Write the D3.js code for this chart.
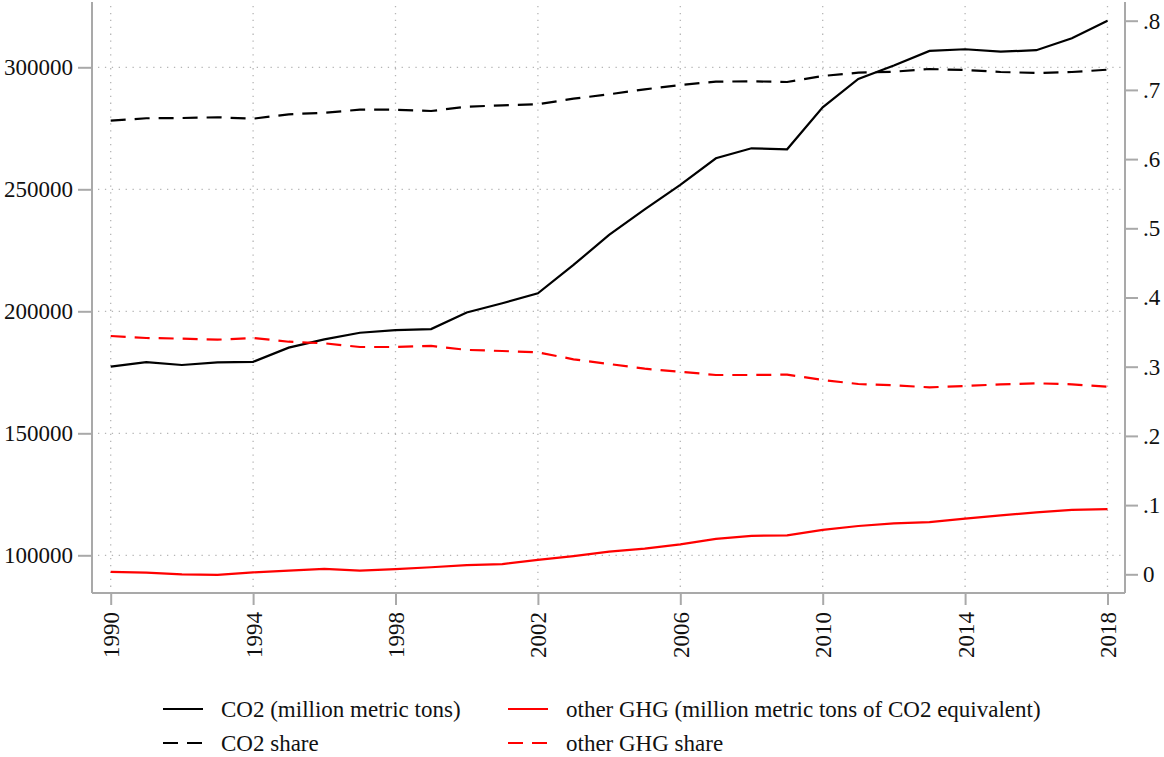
<!DOCTYPE html>
<html>
<head>
<meta charset="utf-8">
<script src="https://cdn.jsdelivr.net/npm/d3@7"></script>
<style>
  body { margin: 0; background: #fff; }
  svg text { font-family: "Liberation Serif", Tinos, "Times New Roman", Times, "DejaVu Serif"; }
</style>
</head>
<body>
<script>
// values
const years = d3.range(1990, 2019);
const co2 = [177300, 179200, 178000, 179100, 179300, 185100, 188500, 191200, 192300, 192700,
             199500, 203300, 207400, 219000, 231300, 241800, 251800, 262700, 266800, 266400,
             283600, 295200, 300700, 306700, 307400, 306400, 307000, 311900, 319100];
const otherGhg = [93200, 92900, 92200, 92000, 93000, 93700, 94400, 93700, 94300, 95100,
                  96000, 96400, 98100, 99700, 101500, 102700, 104500, 106700, 108000, 108200,
                  110400, 112000, 113100, 113600, 115000, 116400, 117600, 118600, 118900];
const co2Share = [.6555, .659, .6594, .6604, .6584, .6647, .667, .6714, .6714, .6695,
                  .6757, .6777, .6792, .6873, .6936, .7008, .7071, .7119, .7124, .7114,
                  .7201, .7249, .7263, .7302, .7287, .7259, .7244, .7259, .7292];
const otherShare = [.3444, .3415, .3405, .339, .3415, .3361, .3338, .3285, .3285, .33,
                    .3243, .3227, .3208, .3107, .3039, .2971, .2928, .288, .288, .2885,
                    .2808, .275, .2731, .2702, .2721, .2745, .276, .2745, .2711];
const leftTicks = [100000, 150000, 200000, 250000, 300000];
const rightTicks = [0, .1, .2, .3, .4, .5, .6, .7, .8];
const xTicks = [1990, 1994, 1998, 2002, 2006, 2010, 2014, 2018];
const legendLabels = ["CO2 (million metric tons)", "other GHG (million metric tons of CO2 equivalent)",
                      "CO2 share", "other GHG share"];

const w = 1164, h = 757;
const plot = {left: 92, right: 1125, top: 2, bottom: 593};
const axisColor = "#a9a9a9";
const dash = "15,9";
const font = '"Liberation Serif", Tinos, "Times New Roman", Times, "DejaVu Serif"';

let svg = d3.select("body").append("svg")
    .attr("width", w)
    .attr("height", h);

let x = d3.scaleLinear().domain([1990, 2018]).range([110.7, 1107.5]);
let yL = d3.scaleLinear().domain([100000, 300000]).range([555.3, 67.3]);
let yR = d3.scaleLinear().domain([0, .8]).range([574.3, 20.7]);

// grid
let grid = svg.append("g")
    .attr("stroke", "#b5b5b5")
    .attr("stroke-width", 1.3)
    .attr("stroke-dasharray", "1.3,5.6");
grid.selectAll("line.h").data(leftTicks).enter().append("line")
    .attr("x1", plot.left + 6).attr("x2", plot.right - 2)
    .attr("y1", d => yL(d)).attr("y2", d => yL(d));
grid.selectAll("line.v").data(xTicks).enter().append("line")
    .attr("y1", plot.top + 4).attr("y2", plot.bottom - 4)
    .attr("x1", d => x(d)).attr("x2", d => x(d));

// axes
let yAxisL = g => g
    .attr("transform", `translate(${plot.left},0)`)
    .call(d3.axisLeft(yL).tickValues(leftTicks).tickSize(14).tickPadding(5).tickFormat(d3.format("d")))
    .call(g => g.select(".domain").attr("d", `M0,${plot.top}V${plot.bottom}`));

let yAxisR = g => g
    .attr("transform", `translate(${plot.right},0)`)
    .call(d3.axisRight(yR).tickValues(rightTicks).tickSize(13).tickPadding(5)
        .tickFormat(d => d === 0 ? "0" : d3.format(".1f")(d).replace(/^0/, "")))
    .call(g => g.select(".domain").attr("d", `M0,${plot.top}V${plot.bottom}`));

let xAxis = g => g
    .attr("transform", `translate(0,${plot.bottom})`)
    .call(d3.axisBottom(x).tickValues(xTicks).tickSize(12).tickFormat(d3.format("d")))
    .call(g => g.select(".domain").attr("d", `M${plot.left},0H${plot.right}`))
    .call(g => g.selectAll(".tick text")
        .attr("transform", "rotate(-90)")
        .attr("text-anchor", "end")
        .attr("x", -19)
        .attr("y", 0)
        .attr("dy", "0.35em"));

[yAxisL, yAxisR, xAxis].forEach(ax => {
    svg.append("g").call(ax)
        .attr("font-family", null)
        .call(g => g.selectAll(".domain, .tick line").attr("stroke", axisColor).attr("stroke-width", 2))
        .call(g => g.selectAll(".tick text").attr("fill", "#111")
            .style("font-size", "23px").style("font-family", font));
});

// lines
const series = [
    {vals: co2, y: yL, color: "#000", dash: null},
    {vals: otherGhg, y: yL, color: "#ff0000", dash: null},
    {vals: co2Share, y: yR, color: "#000", dash: dash},
    {vals: otherShare, y: yR, color: "#ff0000", dash: dash}
];

series.forEach(s => {
    let line = d3.line().x((d, i) => x(years[i])).y(d => s.y(d));
    svg.append("path")
        .datum(s.vals)
        .attr("fill", "none")
        .attr("stroke", s.color)
        .attr("stroke-width", 2.2)
        .attr("stroke-dasharray", s.dash)
        .attr("d", line);
});

// legend
const legX = [163, 508];
const legY = [709, 743];
series.forEach((s, i) => {
    let lx = legX[i % 2], ly = legY[Math.floor(i / 2)];
    let g = svg.append("g");
    g.append("line")
        .attr("x1", lx).attr("x2", lx + 40)
        .attr("y1", ly).attr("y2", ly)
        .attr("stroke", s.color)
        .attr("stroke-width", 2.2)
        .attr("stroke-dasharray", s.dash);
    g.append("text")
        .attr("x", lx + 58)
        .attr("y", ly)
        .attr("dy", "0.35em")
        .style("font-size", "23px")
        .style("font-family", font)
        .attr("fill", "#111")
        .text(legendLabels[i]);
});
</script>
</body>
</html>
